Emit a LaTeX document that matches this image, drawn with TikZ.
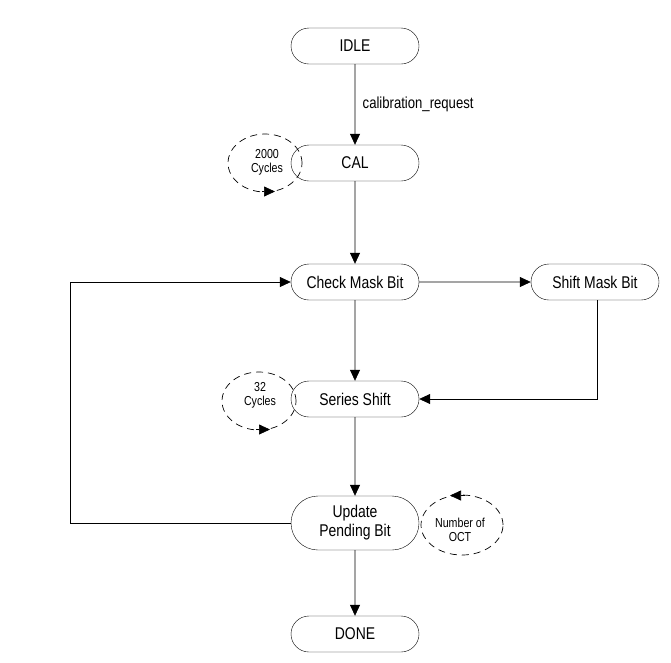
\documentclass[tikz,border=0pt]{standalone}
\usepackage{fontspec}
\setmainfont{Liberation Sans}[FakeStretch=0.82]
\usetikzlibrary{arrows.meta,shapes.misc}
\begin{document}
\begin{tikzpicture}[x=1pt,y=-1pt,
  st/.style={draw,rounded rectangle,minimum width=130pt,minimum height=36pt,inner sep=1pt,font=\fontsize{17}{19}\selectfont,align=center},
  ar/.style={-{Triangle[length=11pt,width=10pt]},line width=0.7pt},
  lp/.style={draw,dashed,dash pattern=on 7pt off 5pt,line width=0.7pt},
  lt/.style={font=\fontsize{13}{14}\selectfont,align=center}]
\useasboundingbox (0,0) rectangle (671,662);
\node[st] (idle) at (355,46) {IDLE};
\node[st] (cal) at (355,163) {CAL};
\node[st] (cmb) at (355,282) {Check Mask Bit};
\node[st] (smb) at (595,282) {Shift Mask Bit};
\node[st] (ss) at (355,399) {Series Shift};
\node[st,minimum height=54pt] (upb) at (355,523) {Update\\Pending Bit};
\node[st] (done) at (355,634) {DONE};
\draw[ar] (idle) -- node[right,xshift=4pt,font=\fontsize{16}{18}\selectfont]{calibration\_request} (cal);
\draw[ar] (cal) -- (cmb);
\draw[ar] (cmb) -- (smb);
\draw[ar] (cmb) -- (ss);
\draw[ar] (ss) -- (upb);
\draw[ar] (upb) -- (done);
\draw[ar] (upb.west) -- (70,523) -- (70,282) -- (cmb.west);
\draw[ar] (smb.south -| 597,0) -- (597,399) -- (ss.east);
% loops
\draw[lp] (265,163) ellipse (37pt and 29pt);
\node[lt] (l1) at (267,162) {2000\\Cycles};
\draw[-{Triangle[length=11pt,width=10pt]},line width=0.7pt] (262,191.5) -- (275,191.5);
\draw[lp] (259,401) ellipse (37pt and 29pt);
\node[lt] (l2) at (260,395) {32\\Cycles};
\draw[-{Triangle[length=11pt,width=10pt]},line width=0.7pt] (256,429.5) -- (270,429.5);
\draw[lp] (462,525) ellipse (41pt and 30pt);
\node[lt] (l3) at (460,530) {Number of\\OCT};
\draw[-{Triangle[length=11pt,width=10pt]},line width=0.7pt] (465,495.5) -- (450,495.5);
\end{tikzpicture}
\end{document}
